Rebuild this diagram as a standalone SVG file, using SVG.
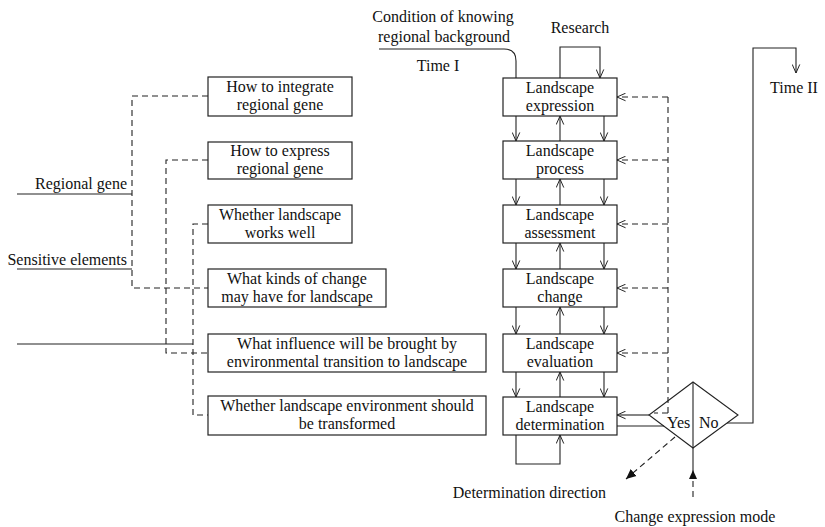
<svg xmlns="http://www.w3.org/2000/svg" width="825" height="527" viewBox="0 0 825 527">
<style>
  text { font-family: "Liberation Serif", "Times New Roman", serif; font-size: 16px; fill: #111; }
  .c { text-anchor: middle; }
  .e { text-anchor: end; }
  .box { fill: #fff; stroke: #222; stroke-width: 1.2; }
  .ln { fill: none; stroke: #222; stroke-width: 1.1; }
  .ds { fill: none; stroke: #222; stroke-width: 1.1; stroke-dasharray: 6 4; }
  .arr { marker-end: url(#open); }
</style>
<defs>
  <marker id="open" viewBox="0 0 10 10" refX="10" refY="5" markerWidth="9" markerHeight="9" markerUnits="userSpaceOnUse" orient="auto">
    <path d="M0.5,0.8 L10,5 L0.5,9.2" fill="none" stroke="#222" stroke-width="1.1"/>
  </marker>
  <marker id="solid" viewBox="0 0 10 10" refX="10" refY="5" markerWidth="10" markerHeight="10" markerUnits="userSpaceOnUse" orient="auto">
    <path d="M0,0.5 L10,5 L0,9.5 Z" fill="#111"/>
  </marker>
</defs>

<g id="connectors">
  <!-- left solid input lines -->
  <path class="ln" d="M17,194 H132"/>
  <path class="ln" d="M17,269 H132"/>
  <path class="ln" d="M17,344 H193"/>
  <!-- left dashed connectors -->
  <path class="ds" d="M208,96 H132 V288 H208"/>
  <path class="ds" d="M208,160 H166 V353 H208"/>
  <path class="ds" d="M208,224 H193 V415 H208"/>

  <!-- condition line into expression -->
  <path class="ln" d="M379,49 H504 Q516,49 516,61 V78"/>
  <!-- research loop -->
  <path class="ln arr" d="M560,78 V47 H600 V78"/>

  <!-- column arrows -->
  <path class="ln arr" d="M516,116 V141"/>
  <path class="ln arr" d="M604,116 V141"/>
  <path class="ln arr" d="M560,141 V116"/>
  <path class="ln arr" d="M516,179 V205"/>
  <path class="ln arr" d="M604,179 V205"/>
  <path class="ln arr" d="M560,205 V179"/>
  <path class="ln arr" d="M516,243 V269"/>
  <path class="ln arr" d="M604,243 V269"/>
  <path class="ln arr" d="M560,269 V243"/>
  <path class="ln arr" d="M516,307 V334"/>
  <path class="ln arr" d="M604,307 V334"/>
  <path class="ln arr" d="M560,334 V307"/>
  <path class="ln arr" d="M516,372 V397"/>
  <path class="ln arr" d="M604,372 V397"/>
  <path class="ln arr" d="M560,397 V372"/>
  <!-- bottom loop -->
  <path class="ln arr" d="M516,435 V464 H560 V435"/>

  <!-- right dashed feedback -->
  <path class="ds" d="M668,413 V97"/>
  <path class="ds" d="M668,413 H654"/>
  <path class="ds arr" d="M668,97 H617"/>
  <path class="ds arr" d="M668,160 H617"/>
  <path class="ds arr" d="M668,224 H617"/>
  <path class="ds arr" d="M668,288 H617"/>
  <path class="ds arr" d="M668,353 H617"/>

  <!-- diamond links -->
  <path class="ln arr" d="M649,415 H617"/>
  <path class="ln" d="M617,426 H664"/>
  <path class="ln arr" d="M727,423 H753 V48 H796 V73"/>
  <!-- determination direction -->
  <path class="ds" d="M675,437 L626,479" style="marker-end:url(#solid)"/>
  <!-- change expression mode -->
  <path class="ds" d="M693,497 V479"/>
  <path class="ln" d="M693,479 V448"/>
  <path d="M693,470 L689,479 L697,479 Z" fill="#111"/>
</g>

<g id="labels">
  <text class="c" x="443" y="22">Condition of knowing</text>
  <text class="c" x="444" y="42">regional background</text>
  <text class="c" x="438" y="71">Time I</text>
  <text class="c" x="580" y="33">Research</text>
  <text class="c" x="794" y="93">Time II</text>
  <text class="e" x="127" y="189">Regional gene</text>
  <text class="e" x="127" y="265">Sensitive elements</text>
  <text class="e" x="606" y="498">Determination direction</text>
  <text class="c" x="695" y="522">Change expression mode</text>
</g>

<g id="q1"><rect class="box" x="208" y="77" width="144" height="39"/>
  <text class="c" x="280" y="92">How to integrate</text><text class="c" x="280" y="110">regional gene</text></g>
<g id="q2"><rect class="box" x="208" y="142" width="144" height="37"/>
  <text class="c" x="280" y="156">How to express</text><text class="c" x="280" y="174">regional gene</text></g>
<g id="q3"><rect class="box" x="208" y="205" width="144" height="38"/>
  <text class="c" x="280" y="220">Whether landscape</text><text class="c" x="280" y="238">works well</text></g>
<g id="q4"><rect class="box" x="208" y="269" width="178" height="38"/>
  <text class="c" x="297" y="284">What kinds of change</text><text class="c" x="297" y="302">may have for landscape</text></g>
<g id="q5"><rect class="box" x="208" y="334" width="278" height="38"/>
  <text class="c" x="347" y="349">What influence will be brought by</text><text class="c" x="347" y="367">environmental transition to landscape</text></g>
<g id="q6"><rect class="box" x="208" y="396" width="278" height="39"/>
  <text class="c" x="347" y="411">Whether landscape environment should</text><text class="c" x="347" y="429">be transformed</text></g>

<g id="expression"><rect class="box" x="503" y="78" width="114" height="38"/>
  <text class="c" x="560" y="93">Landscape</text><text class="c" x="560" y="111">expression</text></g>
<g id="process"><rect class="box" x="503" y="141" width="114" height="38"/>
  <text class="c" x="560" y="156">Landscape</text><text class="c" x="560" y="174">process</text></g>
<g id="assessment"><rect class="box" x="503" y="205" width="114" height="38"/>
  <text class="c" x="560" y="220">Landscape</text><text class="c" x="560" y="238">assessment</text></g>
<g id="change"><rect class="box" x="503" y="269" width="114" height="38"/>
  <text class="c" x="560" y="284">Landscape</text><text class="c" x="560" y="302">change</text></g>
<g id="evaluation"><rect class="box" x="503" y="334" width="114" height="38"/>
  <text class="c" x="560" y="349">Landscape</text><text class="c" x="560" y="367">evaluation</text></g>
<g id="determination"><rect class="box" x="503" y="397" width="114" height="38"/>
  <text class="c" x="560" y="412">Landscape</text><text class="c" x="560" y="430">determination</text></g>

<g id="decision">
  <polygon points="693,382 738,415 693,448 649,415" fill="none" stroke="#222" stroke-width="1.1"/>
  <path class="ln" d="M693,382 V448"/>
  <text x="667" y="428">Yes</text>
  <text x="699" y="428">No</text>
</g>
</svg>
